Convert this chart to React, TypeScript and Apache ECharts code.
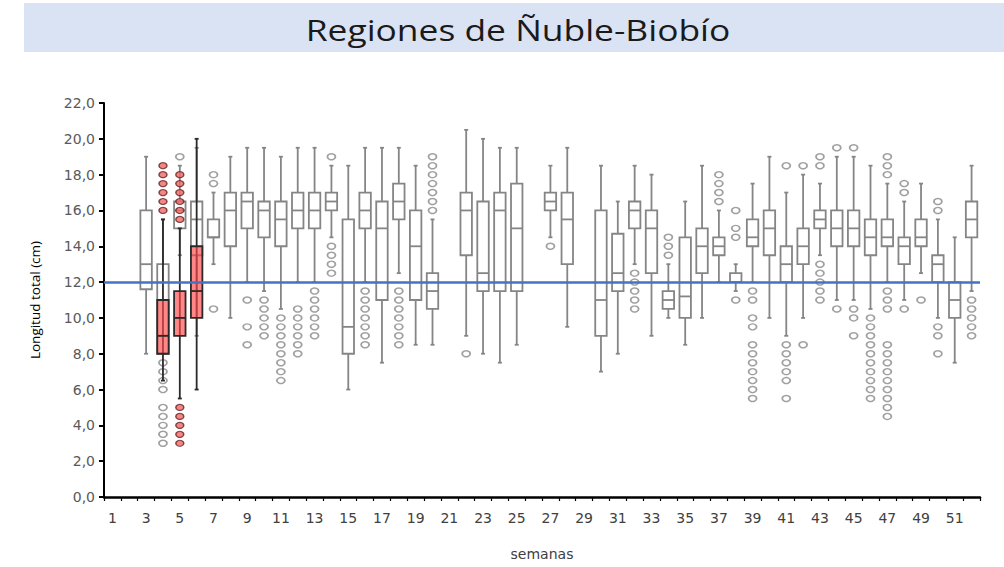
import React, { useEffect, useRef } from "react";
import * as echarts from "echarts";

const weeks = [
  "1", "2", "3", "4", "5", "6", "7", "8", "9", "10", "11", "12", "13",
  "14", "15", "16", "17", "18", "19", "20", "21", "22", "23", "24", "25", "26",
  "27", "28", "29", "30", "31", "32", "33", "34", "35", "36", "37", "38", "39",
  "40", "41", "42", "43", "44", "45", "46", "47", "48", "49", "50", "51", "52",
];

const yTicks = { min: 0, max: 22, step: 2 };
const referenceLength = 12;

// [week, low whisker, Q1, median, Q3, high whisker]
const whiteBoxes: number[][] = [
  [3, 8.0, 11.6, 13.0, 16.0, 19.0],
  [4, 8.0, 8.0, 9.0, 13.0, 15.5],
  [5, 13.5, 15.0, 16.0, 16.5, 18.5],
  [6, 9.0, 13.5, 15.5, 16.5, 19.5],
  [7, 13.0, 14.5, 14.5, 15.5, 17.0],
  [8, 10.0, 14.0, 16.0, 17.0, 19.0],
  [9, 12.0, 15.0, 16.5, 17.0, 19.5],
  [10, 11.5, 14.5, 16.0, 16.5, 19.5],
  [11, 10.5, 14.0, 15.5, 16.5, 19.0],
  [12, 12.0, 15.0, 16.0, 17.0, 19.5],
  [13, 12.0, 15.0, 16.0, 17.0, 19.5],
  [14, 14.5, 16.0, 16.5, 17.0, 18.5],
  [15, 6.0, 8.0, 9.5, 15.5, 18.5],
  [16, 12.0, 15.0, 16.0, 17.0, 19.5],
  [17, 7.5, 11.0, 15.0, 16.5, 19.5],
  [18, 12.5, 15.5, 16.5, 17.5, 19.5],
  [19, 8.5, 11.0, 14.0, 16.0, 18.5],
  [20, 8.5, 10.5, 11.5, 12.5, 15.5],
  [22, 9.0, 13.5, 16.0, 17.0, 20.5],
  [23, 8.0, 11.5, 12.5, 16.5, 20.0],
  [24, 7.5, 11.5, 16.0, 17.0, 19.5],
  [25, 8.5, 11.5, 15.0, 17.5, 19.5],
  [27, 14.5, 16.0, 16.5, 17.0, 18.5],
  [28, 9.5, 13.0, 15.5, 17.0, 19.5],
  [30, 7.0, 9.0, 11.0, 16.0, 18.5],
  [31, 8.0, 11.5, 12.5, 14.7, 16.5],
  [32, 13.0, 15.0, 16.0, 16.5, 18.5],
  [33, 9.0, 12.5, 15.0, 16.0, 18.0],
  [34, 10.0, 10.5, 11.0, 11.5, 13.0],
  [35, 8.5, 10.0, 11.2, 14.5, 16.5],
  [36, 10.0, 12.5, 14.0, 15.0, 18.5],
  [37, 12.0, 13.5, 14.0, 14.5, 16.0],
  [38, 11.5, 12.0, 12.0, 12.5, 13.0],
  [39, 12.0, 14.0, 14.5, 15.5, 17.5],
  [40, 10.0, 13.5, 15.0, 16.0, 19.0],
  [41, 9.0, 12.0, 13.0, 14.0, 17.0],
  [42, 10.0, 13.0, 14.0, 15.0, 18.0],
  [43, 13.5, 15.0, 15.5, 16.0, 17.5],
  [44, 11.0, 14.0, 15.0, 16.0, 19.0],
  [45, 11.0, 14.0, 15.0, 16.0, 19.0],
  [46, 10.5, 13.5, 14.5, 15.5, 18.5],
  [47, 12.0, 14.0, 14.5, 15.5, 17.5],
  [48, 11.0, 13.0, 14.0, 14.5, 16.5],
  [49, 12.5, 14.0, 14.5, 15.5, 17.5],
  [50, 10.0, 12.0, 13.0, 13.5, 15.5],
  [51, 7.5, 10.0, 11.0, 12.0, 14.5],
  [52, 11.5, 14.5, 15.5, 16.5, 18.5],
];

const redBoxes: number[][] = [
  [4, 6.5, 8.0, 9.0, 11.0, 15.5],
  [5, 5.5, 9.0, 10.0, 11.5, 15.0],
  [6, 6.0, 10.0, 11.5, 14.0, 20.0],
];

// [week, outlier values]
const whiteOutliers: [number, number[]][] = [
  [4, [7.5, 7.0, 6.5, 6.0, 5.0, 4.5, 4.0, 3.5, 3.0]],
  [5, [19.0]],
  [7, [18.0, 17.5, 10.5]],
  [9, [11.0, 9.5, 8.5]],
  [10, [11.0, 10.5, 10.0, 9.5, 9.0]],
  [11, [10.0, 9.5, 9.0, 8.5, 8.0, 7.5, 7.0, 6.5]],
  [12, [10.5, 10.0, 9.5, 9.0, 8.5, 8.0]],
  [13, [11.5, 11.0, 10.5, 10.0, 9.5, 9.0]],
  [14, [19.0, 14.0, 13.5, 13.0, 12.5]],
  [16, [11.5, 11.0, 10.5, 10.0, 9.5, 9.0, 8.5]],
  [18, [11.5, 11.0, 10.5, 10.0, 9.5, 9.0, 8.5]],
  [20, [19.0, 18.5, 18.0, 17.5, 17.0, 16.5, 16.0]],
  [22, [8.0]],
  [27, [14.0]],
  [32, [12.5, 12.0, 11.5, 11.0, 10.5]],
  [34, [14.5, 14.0, 13.5]],
  [37, [18.0, 17.5, 17.0, 16.5]],
  [38, [16.0, 15.0, 14.5, 11.0]],
  [39, [11.5, 11.0, 10.0, 9.5, 8.5, 8.0, 7.5, 7.0, 6.5, 6.0, 5.5]],
  [41, [18.5, 8.5, 8.0, 7.5, 7.0, 6.5, 5.5]],
  [42, [18.5, 8.5]],
  [43, [19.0, 18.5, 13.0, 12.5, 12.0, 11.5, 11.0]],
  [44, [19.5, 10.5]],
  [45, [19.5, 10.5, 10.0, 9.0]],
  [46, [10.0, 9.5, 9.0, 8.5, 8.0, 7.5, 7.0, 6.5, 6.0, 5.5]],
  [47, [19.0, 18.5, 18.0, 11.5, 11.0, 10.5, 8.5, 8.0, 7.5, 7.0, 6.5, 6.0, 5.5, 5.0, 4.5]],
  [48, [17.5, 17.0, 10.5]],
  [49, [11.0]],
  [50, [16.5, 16.0, 9.5, 9.0, 8.0]],
  [52, [11.0, 10.5, 10.0, 9.5, 9.0]],
];

const redOutliers: [number, number[]][] = [
  [4, [18.5, 18.0, 17.5, 17.0, 16.5, 16.0]],
  [5, [18.0, 17.5, 17.0, 16.5, 16.0, 15.5, 5.0, 4.5, 4.0, 3.5, 3.0]],
];

const toBoxData = (rows: number[][]) =>
  rows.map((r) => [weeks.indexOf(String(r[0])), r[1], r[2], r[3], r[4], r[5]]);

const toPoints = (rows: [number, number[]][]) => {
  const out: number[][] = [];
  rows.forEach(([w, vals]) => {
    const idx = weeks.indexOf(String(w));
    vals.forEach((v) => out.push([idx, v]));
  });
  return out;
};

function makeRender(fill: string, stroke: string, lineWidth: number) {
  return (_params: any, api: any) => {
    const idx = api.value(0);
    const low = api.coord([idx, api.value(1)]);
    const q1 = api.coord([idx, api.value(2)]);
    const med = api.coord([idx, api.value(3)]);
    const q3 = api.coord([idx, api.value(4)]);
    const high = api.coord([idx, api.value(5)]);
    const bw = api.size([1, 0])[0] * 0.68;
    const cx = low[0];
    const cap = 2;
    const ls = { stroke, lineWidth, fill: "none" };
    return {
      type: "group",
      children: [
        { type: "line", shape: { x1: cx, y1: high[1], x2: cx, y2: low[1] }, style: ls },
        { type: "line", shape: { x1: cx - cap, y1: high[1], x2: cx + cap, y2: high[1] }, style: ls },
        { type: "line", shape: { x1: cx - cap, y1: low[1], x2: cx + cap, y2: low[1] }, style: ls },
        {
          type: "rect",
          shape: { x: cx - bw / 2, y: q3[1], width: bw, height: q1[1] - q3[1] },
          style: { fill, stroke, lineWidth },
        },
        { type: "line", shape: { x1: cx - bw / 2, y1: med[1], x2: cx + bw / 2, y2: med[1] }, style: ls },
      ],
    };
  };
}

export default function App() {
  const ref = useRef<HTMLDivElement>(null);
  useEffect(() => {
    if (!ref.current) return;
    const chart = echarts.init(ref.current, undefined, { renderer: "svg" });
    const option: any = {
      animation: false,
      backgroundColor: "#ffffff",
      graphic: [
        {
          type: "rect",
          shape: { x: 24, y: 3, width: 980, height: 49 },
          style: { fill: "#dae3f3" },
          z: 0,
        },
        {
          type: "text",
          x: 518,
          y: 30,
          scaleX: 1.18,
          style: {
            text: "Regiones de Ñuble-Biobío",
            fontFamily: "Open Sans",
            fontSize: 30,
            fill: "#1a1a1a",
            align: "center",
            verticalAlign: "middle",
          },
          z: 1,
        },
      ],
      grid: { left: 104, right: 24, top: 103, bottom: 70, outerBoundsMode: "none" },
      xAxis: {
        type: "category",
        data: weeks,
        boundaryGap: true,
        name: "semanas",
        nameLocation: "middle",
        nameGap: 50,
        nameTextStyle: { fontFamily: "DejaVu Sans", fontSize: 14, color: "#404040" },
        axisLine: { show: true, lineStyle: { color: "#000", width: 2.5 } },
        axisTick: { show: true, interval: 0, length: 4, lineStyle: { color: "#000", width: 1.2 } },
        axisLabel: {
          interval: 1,
          margin: 14,
          fontFamily: "DejaVu Sans",
          fontSize: 14,
          color: "#404040",
        },
        splitLine: { show: false },
      },
      yAxis: {
        type: "value",
        min: yTicks.min,
        max: yTicks.max,
        interval: yTicks.step,
        name: "Longitud total (cm)",
        nameLocation: "middle",
        nameGap: 62,
        nameTextStyle: { fontFamily: "Open Sans", fontSize: 13.5, color: "#000" },
        axisLine: { show: true, lineStyle: { color: "#000", width: 2 } },
        axisTick: { show: true, length: 5, lineStyle: { color: "#000", width: 2 } },
        axisLabel: {
          margin: 9,
          fontFamily: "DejaVu Sans",
          fontSize: 14,
          color: "#595959",
          formatter: (v: number) => v.toFixed(1).replace(".", ","),
        },
        splitLine: { show: false },
      },
      series: [
        {
          type: "custom",
          name: "white",
          renderItem: makeRender("#ffffff", "#858585", 1.8),
          encode: { x: 0, y: [1, 2, 3, 4, 5] },
          data: toBoxData(whiteBoxes),
          z: 2,
          silent: true,
        },
        {
          type: "scatter",
          name: "whiteOut",
          data: toPoints(whiteOutliers),
          symbol: "circle",
          symbolSize: [8, 6],
          itemStyle: { color: "#ffffff", borderColor: "#888888", borderWidth: 1.6 },
          z: 3,
          silent: true,
        },
        {
          type: "custom",
          name: "red",
          renderItem: makeRender("rgba(255,70,70,0.65)", "#2a2a2a", 1.8),
          encode: { x: 0, y: [1, 2, 3, 4, 5] },
          data: toBoxData(redBoxes),
          z: 4,
          silent: true,
        },
        {
          type: "scatter",
          name: "redOut",
          data: toPoints(redOutliers),
          symbol: "circle",
          symbolSize: [8, 6],
          itemStyle: { color: "#f06868", borderColor: "#6a2020", borderWidth: 1.3 },
          z: 5,
          silent: true,
          markLine: {
            silent: true,
            symbol: ["none", "none"],
            label: { show: false },
            lineStyle: { color: "#4472c4", width: 2.5, type: "solid" },
            data: [{ yAxis: referenceLength }],
          },
        },
      ],
    };
    chart.setOption(option);
    return () => chart.dispose();
  }, []);
  return (
    <div
      ref={ref}
      style={{ position: "absolute", left: 0, top: 0, width: 1004, height: 567 }}
    />
  );
}
